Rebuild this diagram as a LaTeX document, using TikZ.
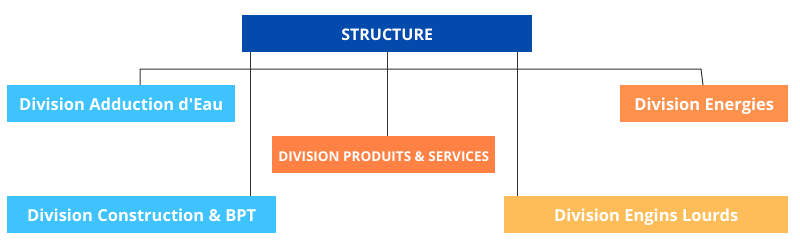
\documentclass[tikz,border=0pt]{standalone}
\usepackage{fontspec}
\setmainfont{Open Sans}
\definecolor{rootblue}{HTML}{024AAC}
\definecolor{skyblue}{HTML}{3EC3FF}
\definecolor{orangeA}{HTML}{FF914D}
\definecolor{orangeB}{HTML}{FF8244}
\definecolor{amber}{HTML}{FEBD59}
\definecolor{linegray}{HTML}{333333}
\begin{document}
\begin{tikzpicture}[x=1pt,y=-1pt,
  box/.style={anchor=north west, inner sep=0pt, text=white, text height=15pt, text depth=2pt, font=\bfseries\fontsize{16.5}{18}\selectfont, align=center},
  link/.style={draw=linegray, line width=1pt}]
\useasboundingbox (0,0) rectangle (800,250);
\node[box, fill=rootblue, minimum width=290pt, minimum height=37pt, font=\bfseries\fontsize{16}{18}\selectfont] (root) at (242,15) {STRUCTURE};
\node[box, fill=skyblue, minimum width=228pt, minimum height=37pt] (add) at (7,85) {Division Adduction d\textquotesingle Eau};
\node[box, fill=orangeA, minimum width=168pt, minimum height=37pt] (ene) at (620,85) {Division Energies};
\node[box, fill=orangeB, minimum width=223pt, minimum height=37pt, font=\bfseries\fontsize{13.5}{15}\selectfont] (prod) at (272,136) {DIVISION PRODUITS \& SERVICES};
\node[box, fill=skyblue, minimum width=269pt, minimum height=37pt] (con) at (7,196) {Division Construction \& BPT};
\node[box, fill=amber, minimum width=284pt, minimum height=37pt] (eng) at (504,196) {Division Engins Lourds};
\coordinate (hl) at (140,69);
\coordinate (hr) at (701,69);
\coordinate (xc) at (250,0);
\coordinate (xp) at (387,0);
\coordinate (xe) at (517,0);
\draw[link] (add.north -| hl) -- (hl) -- (hr) -- ([xshift=2pt]ene.north -| hr);
\draw[link] (root.south -| xc) -- (con.north -| xc);
\draw[link] (root.south -| xp) -- (prod.north -| xp);
\draw[link] (root.south -| xe) -- (eng.north -| xe);
\end{tikzpicture}
\end{document}
